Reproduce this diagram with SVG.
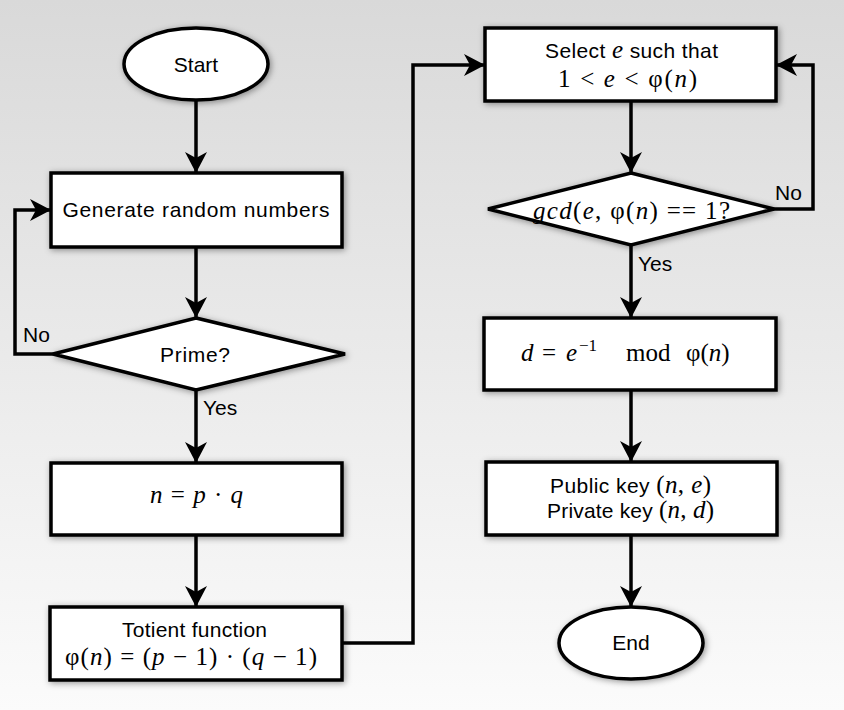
<svg xmlns="http://www.w3.org/2000/svg" width="844" height="710" viewBox="0 0 844 710">
<defs>
<linearGradient id="bg" x1="0" y1="0" x2="0" y2="1">
<stop offset="0" stop-color="#d9d9d9"/>
<stop offset="1" stop-color="#fbfbfb"/>
</linearGradient>
<filter id="sh" x="-20%" y="-40%" width="140%" height="180%">
<feDropShadow dx="1.5" dy="1.5" stdDeviation="3" flood-color="#000" flood-opacity="0.4"/>
</filter>
<marker id="arr" markerUnits="userSpaceOnUse" markerWidth="26" markerHeight="26" viewBox="-23 -13 26 26" refX="0" refY="0" orient="auto">
<path d="M0,0 L-21,-11 L-15,0 L-21,11 Z" fill="#000"/>
</marker>
</defs>
<style>
.shape { fill:#fff; stroke:#000; stroke-width:3.5; filter:url(#sh); }
.edge { fill:none; stroke:#000; stroke-width:3.5; marker-end:url(#arr); }
.t { font-family:"Liberation Sans", Arial, sans-serif; font-size:21px; fill:#000; text-anchor:middle; white-space:pre; }
.lbl { font-family:"Liberation Sans", Arial, sans-serif; font-size:21px; fill:#000; white-space:pre; }
.m { font-family:"Liberation Serif", "Times New Roman", serif; font-size:25px; fill:#000; white-space:pre; }
.mc { text-anchor:middle; }
.i { font-style:italic; }
.u { font-style:normal; }
.sup { font-size:17px; }
</style>
<rect x="0" y="0" width="844" height="710" fill="url(#bg)"/>

<g id="connectors">
<path class="edge" d="M196,100 V173"/>
<path class="edge" d="M196,247 V318"/>
<path class="edge" d="M53,354 H15 V210 H51"/>
<path class="edge" d="M196,390 V463"/>
<path class="edge" d="M196,535 V607"/>
<path class="edge" d="M342,643 H413 V65 H485"/>
<path class="edge" d="M631,101 V173"/>
<path class="edge" d="M774,209 H813 V65 H776"/>
<path class="edge" d="M631,245 V318"/>
<path class="edge" d="M631,390 V462"/>
<path class="edge" d="M631,535 V607"/>
<text class="lbl" x="23" y="342">No</text>
<text class="lbl" x="203" y="415">Yes</text>
<text class="lbl" x="775" y="200">No</text>
<text class="lbl" x="638" y="271">Yes</text>
</g>

<g id="start">
<ellipse class="shape" cx="196" cy="64" rx="72" ry="36"/>
<text class="t" x="196" y="72">Start</text>
</g>

<g id="generate">
<rect class="shape" x="51" y="173" width="291" height="74"/>
<text class="t" x="196" y="217" textLength="267" lengthAdjust="spacing">Generate random numbers</text>
</g>

<g id="prime">
<polygon class="shape" points="196,318 345,354 196,390 53,354"/>
<text class="t" x="195" y="362" textLength="70" lengthAdjust="spacing">Prime?</text>
</g>

<g id="n-pq">
<rect class="shape" x="51" y="463" width="291" height="72"/>
<text class="m mc" x="196.5" y="503" textLength="93" lengthAdjust="spacing"><tspan class="i">n</tspan> = <tspan class="i">p</tspan> · <tspan class="i">q</tspan></text>
</g>

<g id="totient">
<rect class="shape" x="50" y="607" width="292" height="73"/>
<text class="t" x="194.5" y="637" textLength="145" lengthAdjust="spacing">Totient function</text>
<text class="m mc" x="191" y="665" textLength="252" lengthAdjust="spacing"><tspan class="u">φ</tspan>(<tspan class="i">n</tspan>) = (<tspan class="i">p</tspan> − 1) · (<tspan class="i">q</tspan> − 1)</text>
</g>

<g id="select-e">
<rect class="shape" x="485" y="28" width="291" height="73"/>
<text class="t" x="631.5" y="58" textLength="173" lengthAdjust="spacing">Select <tspan class="m i">e</tspan> such that</text>
<text class="m mc" x="627.5" y="87" textLength="139" lengthAdjust="spacing">1 &lt; <tspan class="i">e</tspan> &lt; <tspan class="u">φ</tspan>(<tspan class="i">n</tspan>)</text>
</g>

<g id="gcd">
<polygon class="shape" points="631,173 774,209 631,245 488,209"/>
<text class="m mc" x="631.5" y="219" textLength="197" lengthAdjust="spacing"><tspan class="i">gcd</tspan>(<tspan class="i">e</tspan>, <tspan class="u">φ</tspan>(<tspan class="i">n</tspan>) == 1?</text>
</g>

<g id="d-inverse">
<rect class="shape" x="484" y="318" width="292" height="72"/>
<text class="m" y="361"><tspan class="i" x="521">d</tspan><tspan x="542">=</tspan><tspan class="i" x="566">e</tspan><tspan class="sup" x="579" dy="-10">−1</tspan><tspan x="626" dy="10">mod</tspan><tspan x="686">φ</tspan><tspan>(</tspan><tspan class="i">n</tspan><tspan>)</tspan></text>
</g>

<g id="keys">
<rect class="shape" x="486" y="462" width="291" height="73"/>
<text class="t" x="630.5" y="493" textLength="161" lengthAdjust="spacing">Public key <tspan class="m">(<tspan class="i">n</tspan>, <tspan class="i">e</tspan>)</tspan></text>
<text class="t" x="630.5" y="518" textLength="167" lengthAdjust="spacing">Private key <tspan class="m">(<tspan class="i">n</tspan>, <tspan class="i">d</tspan>)</tspan></text>
</g>

<g id="end">
<ellipse class="shape" cx="631" cy="643" rx="72" ry="36"/>
<text class="t" x="631" y="650">End</text>
</g>
</svg>
